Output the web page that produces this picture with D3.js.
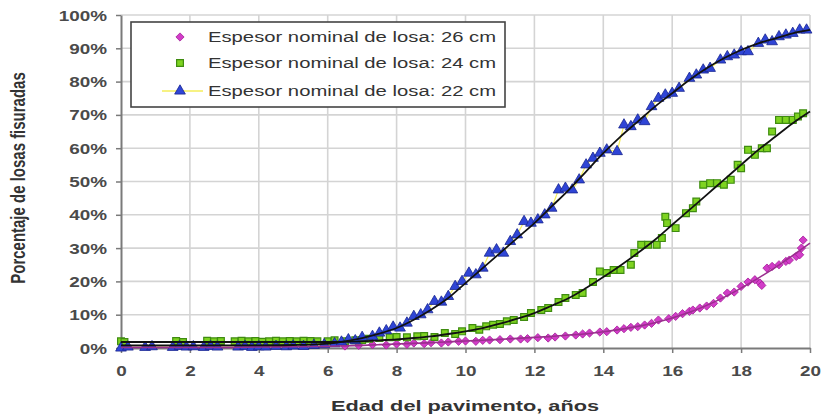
<!DOCTYPE html>
<html>
<head>
<meta charset="utf-8">
<script src="https://cdn.jsdelivr.net/npm/d3@7"></script>
<style>
  html, body { margin: 0; padding: 0; background: #fff; }
  svg { display: block; font-family: "Liberation Sans", Arial, sans-serif; }
</style>
</head>
<body>
<svg id="chart" width="821" height="416"></svg>
<script>
// Observed cracking, slab thickness 22 cm (age in years, % cracked)
const age22 = [0, 0.2, 0.7, 0.9, 1.5, 1.7, 1.9, 2.1, 2.4, 2.6, 2.8, 3.4, 3.6, 3.8, 4.0, 4.2, 4.5, 4.8, 5.0, 5.3, 5.6, 5.9,
  6.2, 6.4, 6.6, 6.8, 7.0, 7.3, 7.5, 7.7, 7.9, 8.1, 8.3, 8.5, 8.7, 8.9, 9.1, 9.3, 9.5, 9.7, 9.9, 10.1, 10.3, 10.5, 10.7,
  10.9, 11.1, 11.3, 11.5, 11.7, 11.9, 12.1, 12.3, 12.5, 12.7, 12.9, 13.1, 13.3, 13.5, 13.7, 13.9, 14.1, 14.4, 14.6, 14.8,
  15.0, 15.2, 15.4, 15.6, 15.8, 16.0, 16.2, 16.5, 16.7, 16.9, 17.1, 17.4, 17.6, 17.8, 18.0, 18.2, 18.5, 18.7, 18.9, 19.1,
  19.3, 19.5, 19.7, 19.9];
const pct22 = [0, 0.3, 0.2, 0.4, 0.2, 0.5, 0.3, 0.4, 0.2, 0.5, 0.3, 0.3, 0.5, 0.2, 0.4, 0.3, 0.5, 0.4, 0.6, 0.5, 0.8, 1.0,
  1.3, 1.8, 2.5, 2.2, 3.2, 3.5, 4.5, 5.2, 6.3, 6.0, 7.5, 9.5, 10, 11.5, 14, 13.8, 15.5, 18.5, 20, 22.5, 22, 24, 28.5,
  29.5, 28.5, 32, 34, 38, 37.5, 38.5, 40, 42, 47.5, 48, 47.5, 50.5, 55, 57, 58.5, 59.5, 59, 67, 66.5,
  68.5, 68, 72.5, 75, 76, 76.5, 78, 81, 82, 83.5, 84, 86.5, 87.5, 88, 89, 89, 91.5, 92.5, 92, 93.5,
  94, 94.5, 95.5, 95.5];

// Observed cracking, slab thickness 24 cm
const age24 = [0, 0.1, 1.6, 1.8, 2.5, 2.7, 2.9, 3.3, 3.5, 3.7, 3.9, 4.1, 4.3, 4.5, 4.7, 4.9, 5.1, 5.3, 5.5, 5.7, 6.0, 6.2,
  6.5, 6.8, 7.0, 7.2, 7.5, 7.8, 8.0, 8.3, 8.6, 8.8, 9.1, 9.4, 9.7, 9.9, 10.2, 10.4, 10.6, 10.8, 11.0, 11.2, 11.4, 11.7,
  11.9, 12.2, 12.4, 12.7, 12.9, 13.2, 13.4, 13.7, 13.9, 14.1, 14.3, 14.5, 14.8, 14.9, 15.1, 15.3, 15.55, 15.7, 15.8, 15.85,
  16.1, 16.4, 16.6, 16.7, 16.9, 17.1, 17.3, 17.5, 17.7, 17.9, 18.0, 18.2, 18.4, 18.6, 18.75, 18.9, 19.1, 19.3, 19.5,
  19.65, 19.8];
const pct24 = [2, 1.8, 2.1, 1.8, 2.2, 2.0, 2.1, 2.0, 2.2, 2.0, 2.1, 1.9, 2.0, 2.2, 2.0, 2.1, 2.0, 2.2, 2.1, 2.0, 2.0, 2.3,
  2.0, 2.3, 2.4, 2.8, 3.0, 3.2, 3.3, 3.2, 3.5, 3.6, 3.3, 4.5, 4.2, 5.0, 6.0, 5.5, 6.5, 7.0, 7.2, 8.0, 8.4, 9.3,
  10.5, 11.4, 12, 13.8, 15, 15.9, 16.5, 19.8, 23, 22.5, 23.4, 23.4, 25, 28.5, 31, 31, 31, 33, 39.4, 37.5,
  36, 40.5, 42, 44, 49, 49.5, 49.5, 49, 50.5, 55, 54, 59.5, 58, 60, 60, 65, 68.5, 68.5, 68.5,
  69.5, 70.5];

// Observed cracking, slab thickness 26 cm
const age26 = [6.5, 6.9, 7.3, 7.7, 8.0, 8.3, 8.5, 8.8, 9.0, 9.3, 9.5, 9.8, 10.0, 10.3, 10.5, 10.7, 11.0, 11.3, 11.6, 11.8,
  12.1, 12.4, 12.6, 12.9, 13.2, 13.4, 13.6, 13.9, 14.1, 14.4, 14.6, 14.8, 15.0, 15.2, 15.4, 15.6, 15.9, 16.1, 16.3, 16.5,
  16.6, 16.8, 17.0, 17.2, 17.4, 17.6, 17.8, 18.0, 18.2, 18.4, 18.55, 18.6, 18.75, 18.9, 19.1, 19.3, 19.4, 19.6, 19.7,
  19.75, 19.8];
const pct26 = [0.6, 0.8, 1.0, 0.9, 1.2, 1.1, 1.5, 1.3, 1.6, 1.5, 1.8, 2.0, 2.1, 2.0, 2.3, 2.4, 2.5, 2.7, 2.7, 2.8,
  3.1, 3.0, 3.3, 3.6, 3.9, 4.2, 4.5, 4.8, 4.9, 5.4, 5.8, 6.2, 6.4, 6.9, 7.4, 8.4, 8.8, 9.5, 10.3, 11.0,
  11.4, 12.0, 12.6, 13.4, 15.0, 16.5, 16.8, 18.5, 19.8, 20.5, 19.5, 18.8, 24, 24.5, 25, 26, 26.4, 27.5, 28,
  30, 32.4];

// Fitted model curves
const fitAges = [0, 1, 2, 3, 4, 5, 5.5, 6, 6.5, 7, 7.5, 8, 8.5, 9, 9.5, 10, 10.5, 11, 11.5, 12, 12.5, 13, 13.5, 14,
  14.5, 15, 15.5, 16, 16.5, 17, 17.5, 18, 18.5, 19, 19.5, 20];
const fit22 = [0.8, 0.8, 0.8, 0.8, 0.8, 0.9, 1.0, 1.3, 2.0, 3.0, 4.3, 6.0, 8.5, 11.5, 15, 19.5, 24, 28.5, 33, 37.5, 42.5,
  47.5, 53, 58.5, 63.5, 68, 72.5, 76.5, 80.5, 84, 87, 89.5, 91.5, 93, 94.5, 95.5];
const fit24 = [1.8, 1.8, 1.8, 1.8, 1.8, 1.8, 1.8, 1.8, 1.9, 2.0, 2.3, 2.6, 3.0, 3.5, 4.2, 5.0, 6.0, 7.3, 8.8, 10.5, 12.7,
  15, 18, 21.3, 24.8, 28.5, 32.5, 37, 41.5, 46, 50.5, 55, 59.5, 63.5, 67.5, 71];
const fit26 = [0.2, 0.2, 0.2, 0.2, 0.3, 0.4, 0.45, 0.5, 0.65, 0.8, 1.0, 1.2, 1.4, 1.6, 1.85, 2.1, 2.35, 2.6, 2.9, 3.2, 3.5,
  3.9, 4.3, 4.9, 5.6, 6.5, 7.6, 9.0, 10.7, 12.8, 15.2, 18, 21, 24.2, 27.8, 31.5];

const xTicks = [0, 2, 4, 6, 8, 10, 12, 14, 16, 18, 20];
const yTicks = [0, 10, 20, 30, 40, 50, 60, 70, 80, 90, 100];
const legendLabels = ["Espesor nominal de losa: 26 cm", "Espesor nominal de losa: 24 cm", "Espesor nominal de losa: 22 cm"];
const xTitle = "Edad del pavimento, años";
const yTitle = "Porcentaje de losas fisuradas";

const svg = d3.select("#chart");
const x = d3.scaleLinear().domain([0, 20]).range([121, 810]);
const y = d3.scaleLinear().domain([0, 100]).range([348, 15]);
const stretch = 1.35;

// grid
const grid = svg.append("g");
grid.selectAll("line.v").data(xTicks.slice(1)).join("line")
  .attr("x1", d => x(d)).attr("x2", d => x(d)).attr("y1", y(100)).attr("y2", y(0))
  .attr("stroke", "#d4d4d4").attr("stroke-width", 1.6);
grid.selectAll("line.h").data(yTicks.slice(1)).join("line")
  .attr("x1", x(0)).attr("x2", x(20)).attr("y1", d => y(d)).attr("y2", d => y(d))
  .attr("stroke", "#d4d4d4").attr("stroke-width", 1.6);

// axes
const yAxis = svg.append("g").attr("transform", `translate(${x(0)},0)`)
  .call(d3.axisLeft(y).tickValues(yTicks).tickFormat(d => d + "%").tickSize(5).tickSizeOuter(0));
const xAxis = svg.append("g").attr("transform", `translate(0,${y(0)})`)
  .call(d3.axisBottom(x).tickValues(xTicks).tickSize(5).tickSizeOuter(0));
[yAxis, xAxis].forEach(a => {
  a.select(".domain").attr("stroke", "#7a7a7a").attr("stroke-width", 2);
  a.selectAll(".tick line").attr("stroke", "#7a7a7a").attr("stroke-width", 1.5);
  a.selectAll("text").attr("font-size", 14).attr("font-weight", "bold").attr("fill", "#4a4a4a")
    .attr("font-family", "Liberation Sans, Arial, sans-serif");
});
yAxis.selectAll(".tick text").attr("x", -14 / stretch).attr("dy", "0.36em")
  .attr("transform", `scale(${stretch},1)`);
xAxis.selectAll(".tick text").attr("y", 28).attr("dy", 0)
  .attr("transform", `scale(${stretch},1)`);

// axis titles
svg.append("text")
  .attr("transform", `translate(465,411) scale(1.45,1)`)
  .attr("text-anchor", "middle").attr("font-size", 15).attr("font-weight", "bold").attr("fill", "#333")
  .text(xTitle);
svg.append("text")
  .attr("transform", `translate(25,178) scale(${stretch},1) rotate(-90)`)
  .attr("text-anchor", "middle").attr("font-size", 15).attr("font-weight", "bold").attr("fill", "#333")
  .text(yTitle);

const plot = svg.append("g");
const line = d3.line().x(d => x(d[0])).y(d => y(d[1])).curve(d3.curveMonotoneX);
const zip = (a, b) => a.map((v, i) => [v, b[i]]);

// connecting line of the 22 cm series
plot.append("path").datum(zip(age22, pct22))
  .attr("d", d3.line().x(d => x(d[0])).y(d => y(d[1])))
  .attr("fill", "none").attr("stroke", "#f4ee5a").attr("stroke-width", 1.2);

// diamond = square turned 45 degrees
const diamond = d3.symbol().type(d3.symbolSquare).size(34);
const square = d3.symbol().type(d3.symbolSquare).size(46);
const triangle = d3.symbol().type(d3.symbolTriangle).size(50);

plot.selectAll("path.s26").data(zip(age26, pct26)).join("path").attr("class", "s26")
  .attr("d", diamond).attr("transform", d => `translate(${x(d[0])},${y(d[1])}) rotate(45)`)
  .attr("fill", "#d23cc8").attr("stroke", "#a6229c").attr("stroke-width", 0.8);
plot.selectAll("path.s24").data(zip(age24, pct24)).join("path").attr("class", "s24")
  .attr("d", square).attr("transform", d => `translate(${x(d[0])},${y(d[1])})`)
  .attr("fill", "#7ed321").attr("stroke", "#3f8c10").attr("stroke-width", 1.2);
plot.selectAll("path.s22").data(zip(age22, pct22)).join("path").attr("class", "s22")
  .attr("d", triangle).attr("transform", d => `translate(${x(d[0])},${y(d[1])})`)
  .attr("fill", "#2f45d6").attr("stroke", "#18258f").attr("stroke-width", 0.8);

// fitted curves
plot.append("path").datum(zip(fitAges, fit26)).attr("d", line)
  .attr("fill", "none").attr("stroke", "#9a2f8e").attr("stroke-width", 1.6);
plot.append("path").datum(zip(fitAges, fit24)).attr("d", line)
  .attr("fill", "none").attr("stroke", "#111").attr("stroke-width", 1.8);
plot.append("path").datum(zip(fitAges, fit22)).attr("d", line)
  .attr("fill", "none").attr("stroke", "#111").attr("stroke-width", 1.8);

// legend
const lg = svg.append("g");
lg.append("rect").attr("x", 131).attr("y", 22).attr("width", 374).attr("height", 85)
  .attr("fill", "#fff").attr("stroke", "#444").attr("stroke-width", 1.6);
const rowY = [37, 63, 91];
lg.append("line").attr("x1", 162).attr("x2", 203).attr("y1", rowY[2]).attr("y2", rowY[2])
  .attr("stroke", "#f4ee5a").attr("stroke-width", 1.6);
lg.append("path").attr("d", diamond).attr("transform", `translate(180,${rowY[0]}) rotate(45)`)
  .attr("fill", "#d23cc8").attr("stroke", "#a6229c").attr("stroke-width", 0.8);
lg.append("path").attr("d", square).attr("transform", `translate(180,${rowY[1]})`)
  .attr("fill", "#7ed321").attr("stroke", "#3f8c10").attr("stroke-width", 1.2);
lg.append("path").attr("d", triangle).attr("transform", `translate(180,${rowY[2]})`)
  .attr("fill", "#2f45d6").attr("stroke", "#18258f").attr("stroke-width", 0.8);
lg.selectAll("text").data(legendLabels).join("text")
  .attr("x", 208).attr("y", (d, i) => rowY[i] + 5)
  .attr("textLength", 288).attr("lengthAdjust", "spacingAndGlyphs")
  .attr("font-size", 14).attr("fill", "#333")
  .text(d => d);
</script>
</body>
</html>
